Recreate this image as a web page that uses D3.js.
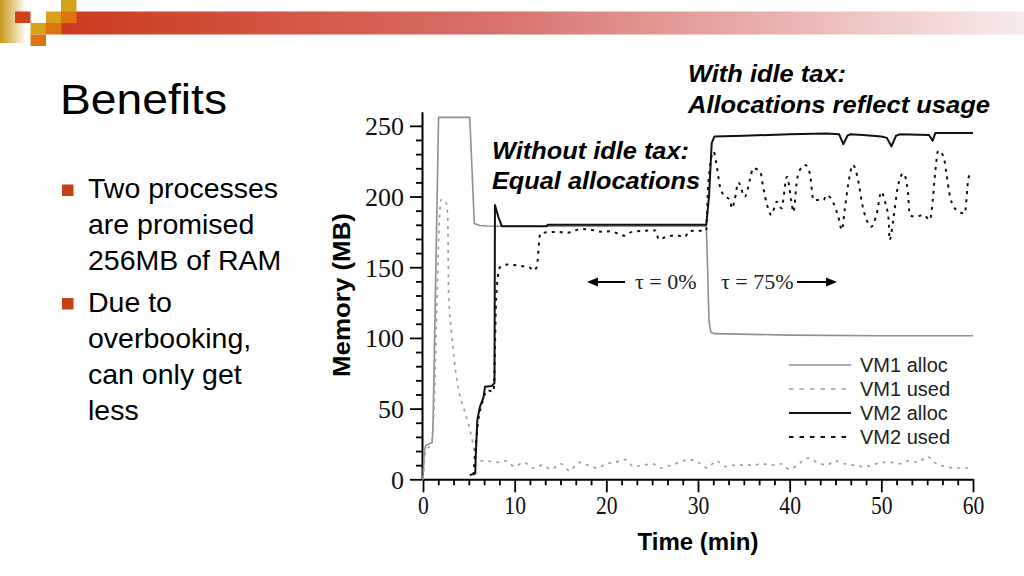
<!DOCTYPE html>
<html>
<head>
<meta charset="utf-8">
<script src="https://cdn.jsdelivr.net/npm/d3@7"></script>
<style>
  html, body { margin: 0; padding: 0; background: #fff; }
  svg { display: block; }
</style>
</head>
<body>
<svg id="chart" width="1024" height="576" font-family="'Liberation Sans', Arial, sans-serif"></svg>
<script>
// ---------- DATA ----------
const xTickLabels = [0, 10, 20, 30, 40, 50, 60];
const yTickLabels = [0, 50, 100, 150, 200, 250];
const seriesNames = ["VM1 alloc", "VM1 used", "VM2 alloc", "VM2 used"];

const vm1AllocTime = [0, 0.15, 0.3, 1.0, 1.1, 1.7, 5.1, 5.6, 6.2, 7, 8, 30.9, 31.0, 31.2, 31.4, 31.8, 40, 50, 60];
const vm1AllocMB   = [0, 20, 24, 26, 40, 256, 256, 181, 179.5, 179.2, 179, 179, 160, 112, 104, 103, 102, 101.5, 101.5];

const vm1UsedTime = [0, 0.3, 0.9, 1.2, 1.5, 1.8, 2.0, 2.5, 2.7, 2.8, 3.1, 3.4, 3.8, 4.2, 4.6, 5.0, 5.3, 5.6, 5.9, 6.5,
  7, 8, 9, 10, 11, 12, 13, 14, 15, 16, 17, 18, 19, 20, 21, 22, 23, 24, 25, 26, 27, 28, 29, 30,
  31, 32, 33, 34, 35, 36, 37, 38, 39, 40, 41, 42, 43, 44, 45, 46, 47, 48, 49, 50, 51, 52, 53, 54, 55, 56, 57, 58, 59, 60];
const vm1UsedMB = [0, 20, 25, 50, 120, 185, 198, 196, 185, 130, 105, 85, 66, 55, 47, 38, 30, 20, 14, 13,
  13, 12, 13, 9, 12, 8, 10, 7, 11, 6, 12, 10, 8, 11, 12, 14, 9, 10, 11, 8, 10, 12, 14, 12,
  8, 13, 9, 10, 10, 10, 11, 10, 11, 7, 11, 15, 12, 10, 13, 11, 10, 9, 10, 12, 12, 11, 13, 12, 16, 11, 9, 8, 8, 8];

const vm2AllocTime = [5.1, 5.7, 5.75, 5.93, 6.2, 6.6, 6.76, 7.5, 7.8, 7.85, 8.2, 8.6, 13.5, 13.6, 30.9, 31.2, 31.5, 31.8,
  35, 40, 44, 45.4, 45.85, 46.3, 46.6, 48, 50, 50.6, 51.1, 51.6, 52, 55.2, 55.6, 55.9, 60];
const vm2AllocMB = [3, 4, 16, 42, 51, 58, 65.5, 66, 68, 194, 186, 179, 179, 180, 180, 200, 238, 242.5,
  243, 244, 244.5, 244, 237, 243, 244, 243.5, 242.5, 241.5, 235.5, 243, 244, 243.5, 239.5, 245, 245];

const vm2UsedTime = [5.5, 6.0, 6.5, 7.0, 7.7, 8.0, 8.4, 9.3, 10.5, 11.6, 12.0, 12.4, 12.8, 13.1, 14.6, 15.7, 17.3, 18.6,
  19.6, 20.4, 21.5, 22.0, 22.8, 25.4, 25.7, 26.6, 27.5, 28.6, 29.0, 30.9,
  31.1, 31.7, 32.0, 32.4, 32.8, 33.5, 33.7, 34.0, 34.4, 35.1, 35.7, 36.0, 36.8, 37.1, 37.5, 38.0, 38.6, 39.1, 39.7,
  40.2, 40.4, 40.8, 41.1, 41.7, 42.2, 42.6, 43.7, 44.0, 44.8, 45.3, 45.7, 46.0, 46.4, 46.9, 47.5, 47.9, 48.4, 48.9,
  49.5, 50.0, 50.4, 50.8, 50.9, 51.3, 51.8, 52.4, 52.9, 53.1, 53.7, 54.6, 55.3, 55.5, 55.9, 56.2, 56.8, 57.1, 57.5,
  58.2, 59.1, 59.5, 59.9];
const vm2UsedMB = [3, 40, 55, 63, 62, 131, 150, 152, 151, 150, 147.6, 150, 174, 174.4, 175, 174.4, 177, 176.2,
  175, 175.5, 173.2, 172.3, 175, 176, 169.7, 171.6, 172.6, 171.6, 175.6, 176,
  207, 231.7, 223.5, 207, 201, 197.5, 191.6, 197.5, 210, 199.8, 212.8, 220, 217.5, 207, 195, 187, 196.3, 191.6, 214,
  196, 189, 211.7, 218.7, 222.3, 216.4, 197.5, 197.5, 201, 195, 185.7, 176.3, 190.4, 209.3, 222.3, 210.5, 195, 183.4, 178.6,
  188, 203.4, 196.3, 183.4, 169.2, 183.4, 207, 216.4, 203.4, 187, 185.7, 187, 183.4, 190.4, 218.7, 232.4, 228, 216.4, 199.8,
  190.4, 188, 212.8, 217.5];

// ---------- DRAWING ----------
const svg = d3.select("#chart");
svg.append("rect").attr("width", 1024).attr("height", 576).attr("fill", "#fff");
const defs = svg.append("defs");
const serif = "'Liberation Serif', 'Times New Roman', serif";

// Header decoration
const hg = defs.append("linearGradient").attr("id", "barGrad").attr("x1", "0").attr("x2", "1");
hg.append("stop").attr("offset", "0").attr("stop-color", "#cc3a1e");
hg.append("stop").attr("offset", "0.45").attr("stop-color", "#d8706a");
hg.append("stop").attr("offset", "1").attr("stop-color", "#f8ecec");
const sg = defs.append("linearGradient").attr("id", "stripGrad").attr("x1", "0").attr("x2", "1");
sg.append("stop").attr("offset", "0").attr("stop-color", "#c89a1a");
sg.append("stop").attr("offset", "0.55").attr("stop-color", "#e6cf90");
sg.append("stop").attr("offset", "1").attr("stop-color", "#ffffff");

svg.append("rect").attr("x", 0).attr("y", 0).attr("width", 26).attr("height", 43).attr("fill", "url(#stripGrad)");
svg.append("rect").attr("x", 61).attr("y", 11.5).attr("width", 963).attr("height", 23).attr("fill", "url(#barGrad)");
const gold = "#d6a21a", orange = "#dc7410", red = "#d2401a";
const sq = [[15, 11.5, red], [30.5, 23, gold], [30.5, 34.5, orange], [46, 11.5, gold], [46, 23, orange], [61, 0, gold], [61, 11.5, orange]];
svg.selectAll("rect.sq").data(sq).join("rect").attr("class", "sq")
  .attr("x", d => d[0]).attr("y", d => d[1]).attr("width", 15.5).attr("height", 11.5).attr("fill", d => d[2]);

// Title and bullets
svg.append("text").attr("x", 60).attr("y", 114).attr("font-size", 42).attr("fill", "#000")
  .attr("textLength", 167).attr("lengthAdjust", "spacingAndGlyphs").text("Benefits");
const bullets = [
  { y: 198, lines: ["Two processes", "are promised", "256MB of RAM"] },
  { y: 311.5, lines: ["Due to", "overbooking,", "can only get", "less"] }
];
bullets.forEach(b => {
  svg.append("rect").attr("x", 62).attr("y", b.y - 13.5).attr("width", 11.5).attr("height", 11.5).attr("fill", "#c8401a");
  b.lines.forEach((l, i) => {
    svg.append("text").attr("x", 88).attr("y", b.y + i * 36).attr("font-size", 28.5).attr("fill", "#000").text(l);
  });
});

// Scales
const x = d3.scaleLinear().domain([0, 60]).range([423, 973]);
const y = d3.scaleLinear().domain([0, 260]).range([479.3, 111.7]);

// Axes
const xAxis = svg.append("g").attr("transform", `translate(0,${y(0)})`)
  .call(d3.axisBottom(x).tickValues(xTickLabels).tickSize(13).tickSizeOuter(0).tickPadding(4));
const xMinor = d3.range(0, 37).map(i => i * 10 / 6).filter(v => Math.abs(v / 10 - Math.round(v / 10)) > 1e-6);
svg.append("g").attr("transform", `translate(0,${y(0)})`)
  .call(d3.axisBottom(x).tickValues(xMinor).tickSize(6).tickFormat(""))
  .call(g => g.select(".domain").remove());
const yAxis = svg.append("g").attr("transform", `translate(${x(0) - 1},0)`)
  .call(d3.axisLeft(y).tickValues(yTickLabels).tickSize(12).tickSizeOuter(0).tickPadding(6));
const yMinor = d3.range(10, 260, 10).filter(v => v % 50 !== 0);
svg.append("g").attr("transform", `translate(${x(0) - 1},0)`)
  .call(d3.axisLeft(y).tickValues(yMinor).tickSize(6).tickFormat(""))
  .call(g => g.select(".domain").remove());

svg.selectAll(".domain").attr("stroke", "#000").attr("stroke-width", 2);
svg.selectAll(".tick line").attr("stroke", "#000").attr("stroke-width", 1.8);
xAxis.attr("font-family", serif);
yAxis.attr("font-family", serif);
xAxis.selectAll(".tick text").attr("font-family", serif)
  .attr("font-size", 25).attr("fill", "#111")
  .attr("textLength", d => String(d).length * 10.8).attr("lengthAdjust", "spacingAndGlyphs");
yAxis.selectAll(".tick text").attr("font-family", serif)
  .attr("font-size", 26).attr("fill", "#111").attr("dy", "0.34em");

// Axis titles
svg.append("text").attr("x", 698).attr("y", 550).attr("text-anchor", "middle")
  .attr("font-size", 24).attr("font-weight", "bold").attr("fill", "#000").text("Time (min)");
svg.append("text").attr("transform", "translate(350,295) rotate(-90)").attr("text-anchor", "middle")
  .attr("font-size", 24).attr("font-weight", "bold").attr("fill", "#000")
  .attr("textLength", 164).attr("lengthAdjust", "spacingAndGlyphs").text("Memory (MB)");

// Series
const styles = [
  { color: "#8f8f8f", width: 1.6, dash: null },
  { color: "#a0a0a0", width: 1.7, dash: "3,5" },
  { color: "#111", width: 2, dash: null },
  { color: "#111", width: 2, dash: "3,5" }
];
const series = [
  { t: vm1AllocTime, v: vm1AllocMB, s: styles[0], curve: d3.curveLinear },
  { t: vm1UsedTime, v: vm1UsedMB, s: styles[1], curve: d3.curveMonotoneX },
  { t: vm2AllocTime, v: vm2AllocMB, s: styles[2], curve: d3.curveLinear },
  { t: vm2UsedTime, v: vm2UsedMB, s: styles[3], curve: d3.curveMonotoneX }
];
series.forEach(sr => {
  const pts = sr.t.map((t, i) => [t, sr.v[i]]);
  const line = d3.line().x(d => x(d[0])).y(d => y(d[1])).curve(sr.curve);
  svg.append("path").datum(pts).attr("d", line).attr("fill", "none")
    .attr("stroke", sr.s.color).attr("stroke-width", sr.s.width)
    .attr("stroke-dasharray", sr.s.dash).attr("stroke-linejoin", "round");
});

// Legend
const legRows = [365, 389, 413, 437];
seriesNames.forEach((n, i) => {
  const st = styles[i];
  svg.append("line").attr("x1", 789).attr("x2", 851).attr("y1", legRows[i]).attr("y2", legRows[i])
    .attr("stroke", st.color).attr("stroke-width", st.width).attr("stroke-dasharray", st.dash ? "4.5,6" : null);
  svg.append("text").attr("x", 860).attr("y", legRows[i] + 7).attr("font-size", 20).attr("fill", "#222").text(n);
});

// tau annotations
svg.append("text").attr("x", 635).attr("y", 288.5).attr("font-family", serif).attr("font-size", 22).attr("fill", "#222").text("τ = 0%");
svg.append("text").attr("x", 721).attr("y", 288.5).attr("font-family", serif).attr("font-size", 22).attr("fill", "#222").text("τ = 75%");
function arrow(x1, x2, yy) {
  const dir = Math.sign(x2 - x1);
  svg.append("line").attr("x1", x1).attr("x2", x2 - dir * 8).attr("y1", yy).attr("y2", yy).attr("stroke", "#000").attr("stroke-width", 2);
  svg.append("path").attr("d", `M${x2},${yy} L${x2 - dir * 11},${yy - 4.5} L${x2 - dir * 11},${yy + 4.5} Z`).attr("fill", "#000");
}
arrow(625, 587, 282);
arrow(797, 837, 282);

// Callouts
const callouts = [
  { x: 688, y: 82, t: "With idle tax:", w: 158 },
  { x: 688, y: 113, t: "Allocations reflect usage", w: 302 },
  { x: 492, y: 159, t: "Without idle tax:", w: 197 },
  { x: 492, y: 189, t: "Equal allocations", w: 208 }
];
callouts.forEach(c => {
  svg.append("text").attr("x", c.x).attr("y", c.y).attr("font-size", 23).attr("font-weight", "bold")
    .attr("font-style", "italic").attr("fill", "#000")
    .attr("textLength", c.w).attr("lengthAdjust", "spacingAndGlyphs").text(c.t);
});
</script>
</body>
</html>
